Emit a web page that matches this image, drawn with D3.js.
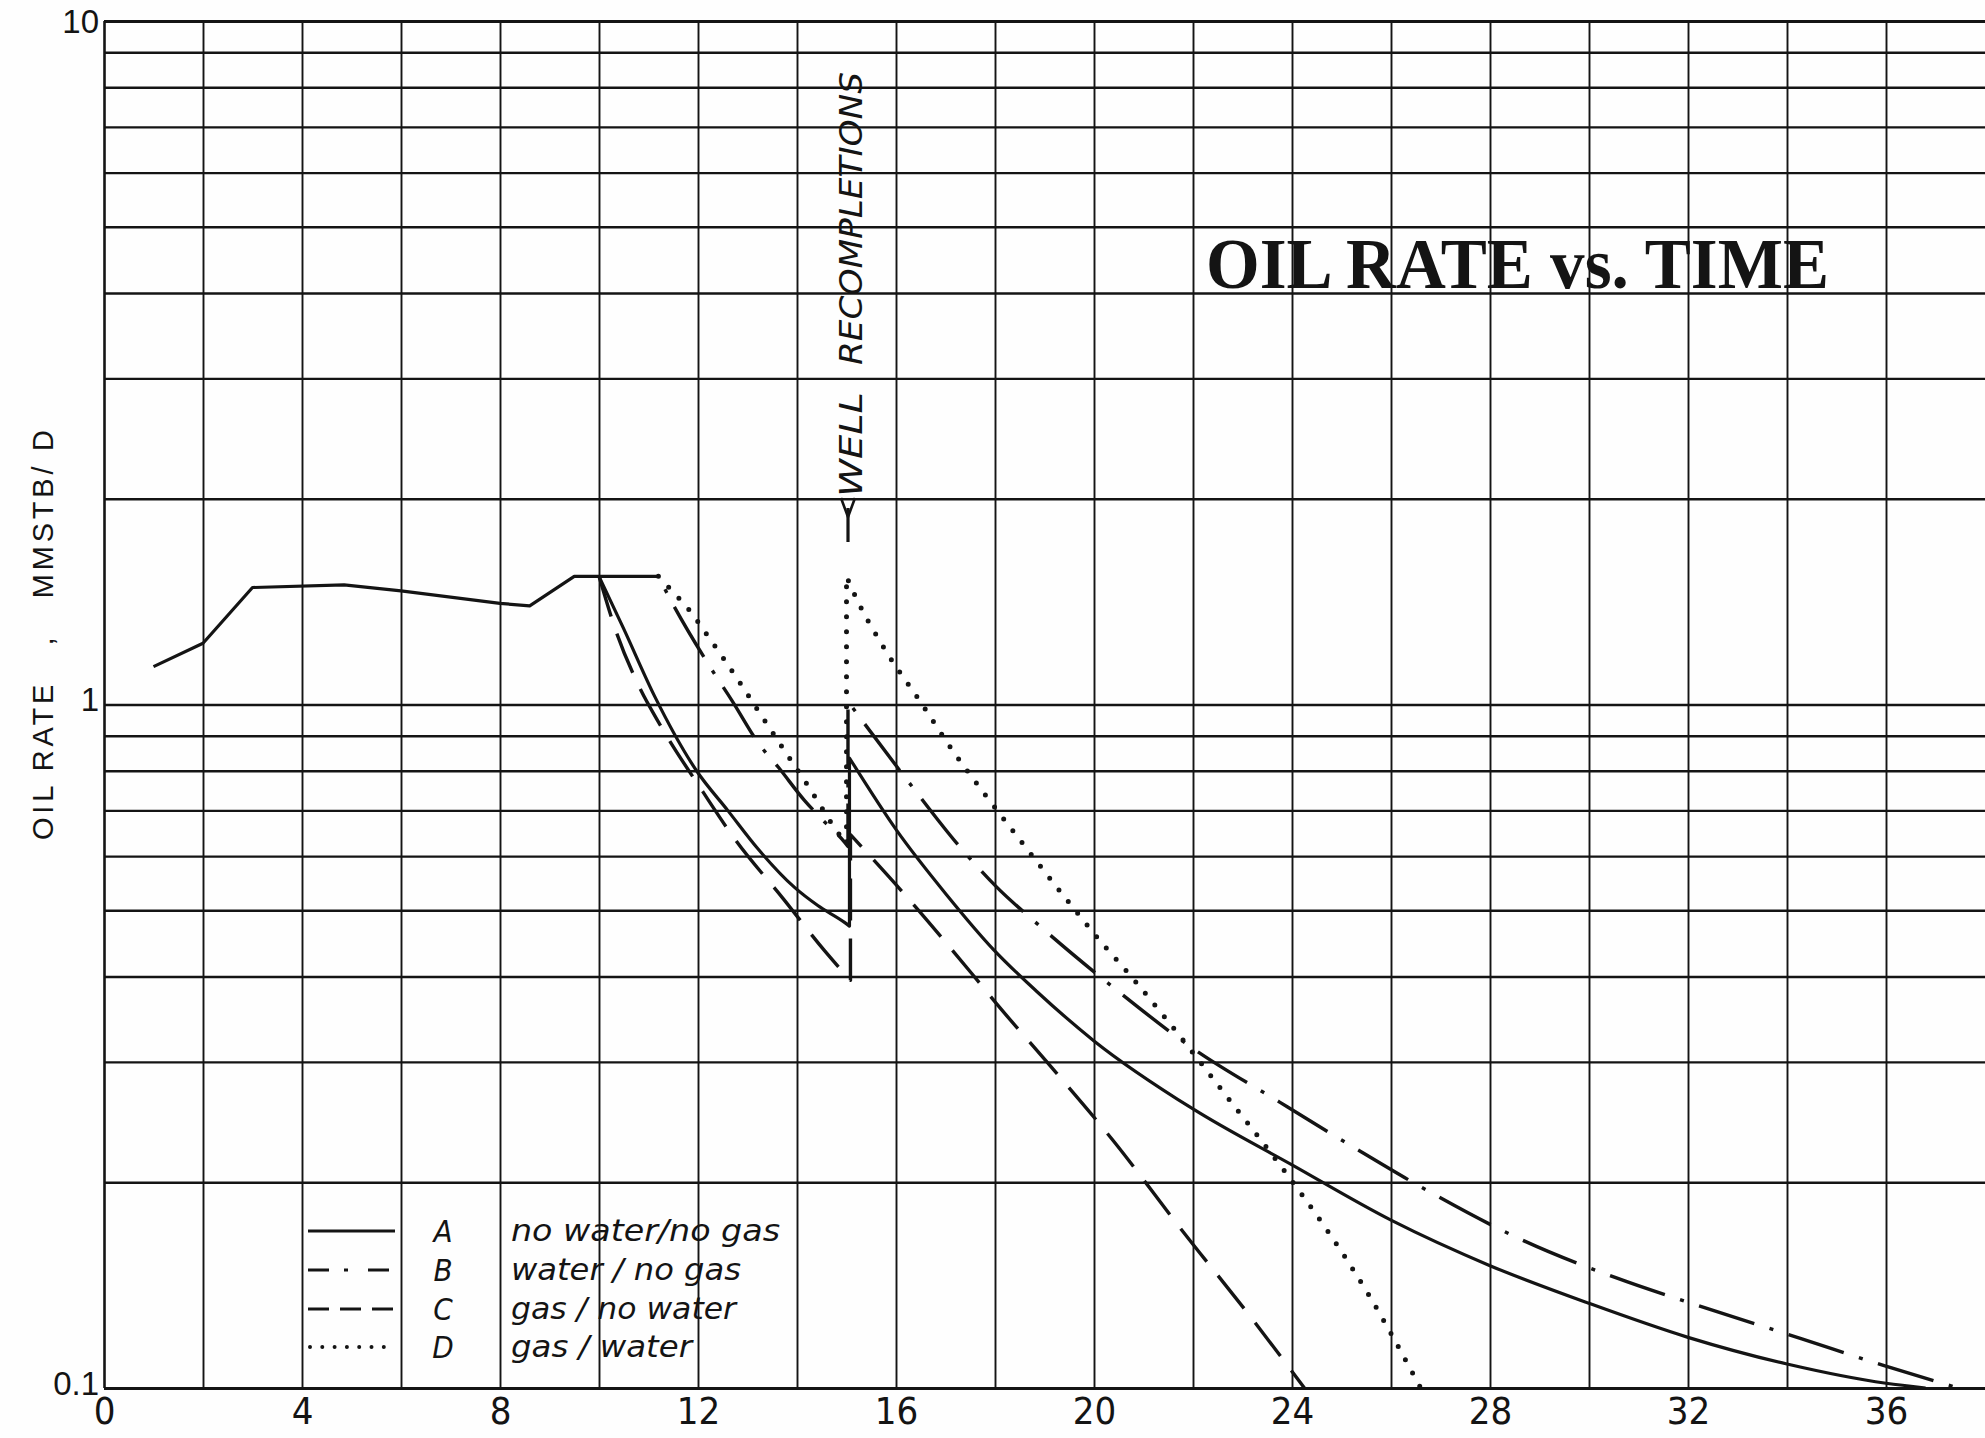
<!DOCTYPE html>
<html>
<head>
<meta charset="utf-8">
<script src="https://cdn.jsdelivr.net/npm/d3@7"></script>
<style>
  html, body { margin: 0; padding: 0; background: #fff; }
  svg { display: block; }
</style>
</head>
<body>
<svg id="chart" width="1985" height="1438"></svg>
<script>
// ---------------- DATA ----------------
const xGridValues = [0, 2, 4, 6, 8, 10, 12, 14, 16, 18, 20, 22, 24, 26, 28, 30, 32, 34, 36];
const xTickLabels = [0, 4, 8, 12, 16, 20, 24, 28, 32, 36];
const yGridValues = [0.1, 0.2, 0.3, 0.4, 0.5, 0.6, 0.7, 0.8, 0.9, 1, 2, 3, 4, 5, 6, 7, 8, 9, 10];
const yTickLabels = [0.1, 1, 10];

const seriesNames = ["A", "B", "C", "D"];
const seriesDescriptions = ["no water/no gas", "water / no gas", "gas / no water", "gas / water"];

// A: no water / no gas (solid)
const timeA = [1.0, 2.0, 3.0, 4.85, 6.0, 8.0, 8.6, 9.5, 10.0, 10.5, 11.13, 11.97, 12.6, 13.21, 13.95, 14.42, 14.96, 15.06,
               15.06, 16.01, 17.02, 17.97, 18.85, 20.0, 22.0, 24.0, 26.0, 28.0, 30.0, 32.0, 34.0, 36.0, 36.8];
const rateA = [1.136, 1.229, 1.483, 1.496, 1.466, 1.406, 1.394, 1.54, 1.54, 1.29, 1.026, 0.80, 0.70, 0.615, 0.54, 0.508, 0.48, 0.474,
               0.835, 0.655, 0.527, 0.438, 0.38, 0.322, 0.256, 0.212, 0.176, 0.151, 0.133, 0.1186, 0.1084, 0.1016, 0.100];

// B: water / no gas (dash-dot)
const timeB = [10.0, 11.2, 11.3, 12.2, 12.68, 13.25, 13.62, 14.15, 14.49, 14.96, 15.03,
               15.03, 16.28, 17.29, 18.03, 18.85, 20.46, 21.97, 23.75, 25.29, 26.76, 28.7, 30.54, 32.35, 34.3, 35.93, 37.46];
const rateB = [1.54, 1.54, 1.49, 1.148, 1.015, 0.872, 0.81, 0.724, 0.681, 0.629, 0.62,
               1.01, 0.766, 0.619, 0.541, 0.478, 0.382, 0.315, 0.262, 0.224, 0.194, 0.164, 0.145, 0.131, 0.118, 0.108, 0.100];

// C: gas / no water (dashed)
const timeC = [10.0, 10.36, 10.79, 11.26, 12.1, 12.74, 13.72, 14.56, 15.08,
               15.08, 16.22, 17.53, 18.03, 19.03, 20.39, 21.78, 23.24, 24.25];
const rateC = [1.54, 1.27, 1.07, 0.927, 0.745, 0.636, 0.52, 0.436, 0.395,
               0.645, 0.523, 0.404, 0.365, 0.301, 0.230, 0.170, 0.125, 0.100];

// D: gas / water (dotted)
const timeD = [11.2, 11.5, 11.84, 12.14, 12.54, 12.88, 13.21, 13.72, 14.26, 14.79, 15.0,
               15.0, 15.2, 15.82, 16.49, 17.16, 17.8, 18.59, 19.35, 20.18, 20.79, 21.51, 22.7, 23.82, 24.69, 25.52, 26.6];
const rateD = [1.54, 1.46, 1.37, 1.277, 1.161, 1.067, 0.981, 0.862, 0.753, 0.655, 0.625,
               1.54, 1.43, 1.19, 1.01, 0.853, 0.738, 0.622, 0.529, 0.446, 0.397, 0.343, 0.266, 0.209, 0.171, 0.138, 0.100];

const recompletionTime = 15.0;

// ---------------- LAYOUT ----------------
const W = 1985, H = 1438;
const PLOT = { left: 104, right: 1985, top: 21, bottom: 1388 };
const INK = "#141414";
const NARROW = "'Liberation Sans Narrow', 'DejaVu Sans Condensed', 'Liberation Sans', sans-serif";

const x = d3.scaleLinear().domain([0, 38]).range([PLOT.left, PLOT.right]);
const y = d3.scaleLog().domain([0.1, 10]).range([PLOT.bottom, PLOT.top]);

const svg = d3.select("#chart");
svg.append("rect").attr("width", W).attr("height", H).attr("fill", "#fefefe");

// ---------------- GRID / AXES ----------------
const gx = svg.append("g")
  .attr("transform", `translate(0,${PLOT.bottom})`)
  .call(d3.axisBottom(x)
    .tickValues(xGridValues)
    .tickSize(-(PLOT.bottom - PLOT.top))
    .tickPadding(9)
    .tickFormat(d => xTickLabels.includes(d) ? String(d) : ""));
gx.select(".domain").remove();
gx.selectAll(".tick line")
  .attr("stroke", INK)
  .attr("stroke-width", d => d === 0 ? 2.6 : 1.9);
gx.selectAll(".tick text")
  .attr("font-family", NARROW)
  .attr("font-size", 38)
  .attr("fill", INK);

const gy = svg.append("g")
  .attr("transform", `translate(${PLOT.left},0)`)
  .call(d3.axisLeft(y)
    .tickValues(yGridValues)
    .tickSize(-(PLOT.right - PLOT.left))
    .tickPadding(5)
    .tickFormat(d => yTickLabels.includes(d) ? String(d) : ""));
gy.select(".domain").remove();
gy.selectAll(".tick line")
  .attr("stroke", INK)
  .attr("stroke-width", d => (d === 10 || d === 0.1) ? 2.8 : 2.4);
gy.selectAll(".tick text")
  .attr("font-family", "'Liberation Sans', Arial, sans-serif")
  .attr("font-size", 33)
  .attr("fill", INK)
  .attr("dy", d => d === 10 ? "0.36em" : (d === 1 ? "0.18em" : "0.2em"));

// ---------------- CURVES ----------------
function pathFor(times, rates, linearUntil) {
  const pts = times.map((t, i) => [t, rates[i]]);
  const segs = [];
  let cur = [pts[0]];
  for (let i = 1; i < pts.length; i++) {
    if (pts[i][0] === pts[i - 1][0]) { segs.push(cur); cur = [pts[i]]; }
    else cur.push(pts[i]);
  }
  segs.push(cur);
  const parts = [];
  segs.forEach(s => {
    const lin = s.filter(p => p[0] <= linearUntil);
    const crv = s.filter(p => p[0] >= linearUntil);
    if (lin.length > 1) parts.push({ pts: lin, curve: d3.curveLinear });
    if (crv.length > 1) parts.push({ pts: crv, curve: d3.curveMonotoneX });
  });
  return parts.map((p, i) => {
    const str = d3.line().x(d => x(d[0])).y(d => y(d[1])).curve(p.curve)(p.pts);
    return i === 0 ? str : "L" + str.slice(1);
  }).join("");
}

const seriesStyles = {
  A: { dash: null, width: 3.2, cap: "butt" },
  B: { dash: "58 16 4 16", width: 3.4, cap: "butt" },
  C: { dash: "42 18", width: 3.4, cap: "butt" },
  D: { dash: "0 15", width: 5, cap: "round" }
};
const seriesData = [
  { name: "A", t: timeA, r: rateA, lin: 10 },
  { name: "B", t: timeB, r: rateB, lin: -Infinity },
  { name: "C", t: timeC, r: rateC, lin: -Infinity },
  { name: "D", t: timeD, r: rateD, lin: -Infinity }
];
const curves = svg.append("g").attr("class", "curves");
seriesData.forEach(s => {
  const st = seriesStyles[s.name];
  curves.append("path")
    .attr("d", pathFor(s.t, s.r, s.lin))
    .attr("fill", "none")
    .attr("stroke", INK)
    .attr("stroke-width", st.width)
    .attr("stroke-linejoin", "round")
    .attr("stroke-linecap", st.cap)
    .attr("stroke-dasharray", st.dash);
});

// ---------------- WELL RECOMPLETIONS annotation ----------------
const rx = x(recompletionTime) + 1.5;
const ann = svg.append("g").attr("fill", INK).attr("font-family", NARROW).attr("font-style", "italic").attr("font-size", 32);
ann.append("text")
  .attr("transform", `translate(${rx + 14},497) rotate(-90)`)
  .attr("textLength", 105).attr("lengthAdjust", "spacingAndGlyphs")
  .text("WELL");
ann.append("text")
  .attr("transform", `translate(${rx + 14},365) rotate(-90)`)
  .attr("textLength", 293).attr("lengthAdjust", "spacingAndGlyphs")
  .text("RECOMPLETIONS");
svg.append("path")
  .attr("d", `M${rx - 7},498 L${rx},517 L${rx + 7},498`)
  .attr("fill", "none").attr("stroke", INK).attr("stroke-width", 2.6).attr("stroke-linejoin", "miter");
svg.append("path")
  .attr("d", `M${rx},508 L${rx},542`)
  .attr("stroke", INK).attr("stroke-width", 3.2);

// ---------------- TITLE ----------------
svg.append("text")
  .attr("x", 1206).attr("y", 288)
  .attr("font-family", "'Liberation Serif', 'DejaVu Serif', serif")
  .attr("font-weight", "bold")
  .attr("font-size", 72)
  .attr("textLength", 623).attr("lengthAdjust", "spacingAndGlyphs")
  .attr("fill", INK)
  .text("OIL RATE vs. TIME");

// ---------------- Y AXIS TITLE ----------------
svg.append("text")
  .attr("transform", "translate(53,840) rotate(-90)")
  .attr("font-family", "'Liberation Sans', Arial, sans-serif")
  .attr("font-size", 29)
  .attr("fill", INK)
  .attr("xml:space", "preserve")
  .style("white-space", "pre")
  .attr("textLength", 410).attr("lengthAdjust", "spacing")
  .text("OIL RATE   ,   MMSTB/ D");

// ---------------- LEGEND ----------------
const legendRowY = [1231, 1270, 1309, 1347];
const legendDash = { A: null, B: "21 15 4 20", C: "21 11", D: "0 12.3" };
const legendWidths = [269, 230, 225, 181];
const legend = svg.append("g");
seriesNames.forEach((name, i) => {
  const yy = legendRowY[i];
  const st = seriesStyles[name];
  legend.append("line")
    .attr("x1", name === "D" ? 310 : 308).attr("x2", 395)
    .attr("y1", yy).attr("y2", yy)
    .attr("stroke", INK)
    .attr("stroke-width", name === "D" ? 4 : 3)
    .attr("stroke-linecap", st.cap)
    .attr("stroke-dasharray", legendDash[name]);
  legend.append("text")
    .attr("x", 443).attr("y", yy + 11)
    .attr("text-anchor", "middle")
    .attr("font-family", NARROW).attr("font-style", "italic").attr("font-size", 31)
    .attr("fill", INK)
    .text(name);
  legend.append("text")
    .attr("x", 511).attr("y", yy + 10)
    .attr("font-family", NARROW).attr("font-style", "italic").attr("font-size", 30)
    .attr("textLength", legendWidths[i]).attr("lengthAdjust", "spacingAndGlyphs")
    .attr("fill", INK)
    .text(seriesDescriptions[i]);
});
</script>
</body>
</html>
